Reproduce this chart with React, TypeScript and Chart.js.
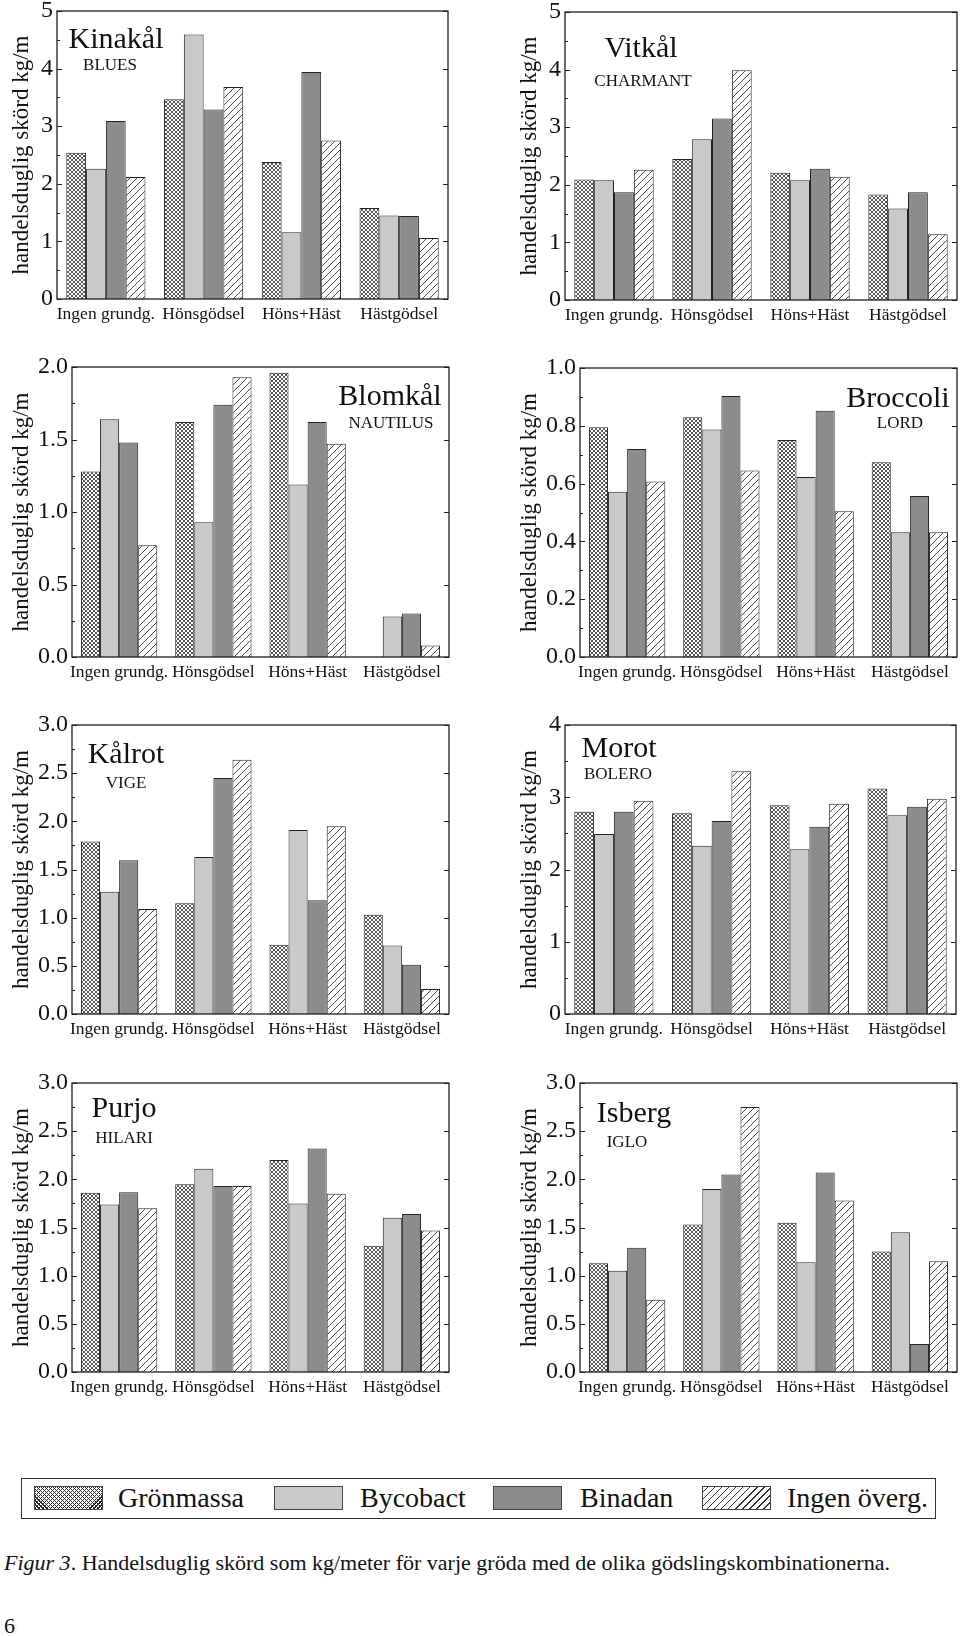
import React, { useEffect, useRef } from "react";
import { Chart, registerables } from "chart.js";

Chart.register(...registerables);

const FONT = '"Liberation Serif", "Times New Roman", serif';

const categories = ["Ingen grundg.", "Hönsgödsel", "Höns+Häst", "Hästgödsel"];
const seriesNames = ["Grönmassa", "Bycobact", "Binadan", "Ingen överg."];
const yAxisTitle = "handelsduglig skörd kg/m";

// Each crop: one array per series (Grönmassa, Bycobact, Binadan, Ingen överg.), values per category
const kinakalValues = [
  [2.54, 3.47, 2.38, 1.58],
  [2.26, 4.59, 1.16, 1.45],
  [3.09, 3.29, 3.94, 1.44],
  [2.12, 3.68, 2.75, 1.06],
];
const vitkalValues = [
  [2.09, 2.45, 2.21, 1.83],
  [2.08, 2.79, 2.08, 1.59],
  [1.87, 3.15, 2.28, 1.87],
  [2.26, 3.99, 2.14, 1.14],
];
const blomkalValues = [
  [1.28, 1.62, 1.96, null],
  [1.64, 0.93, 1.19, 0.28],
  [1.48, 1.74, 1.62, 0.3],
  [0.77, 1.93, 1.47, 0.08],
];
const broccoliValues = [
  [0.795, 0.83, 0.751, 0.674],
  [0.572, 0.787, 0.623, 0.432],
  [0.72, 0.903, 0.852, 0.557],
  [0.607, 0.645, 0.504, 0.432],
];
const kalrotValues = [
  [1.79, 1.15, 0.72, 1.03],
  [1.27, 1.63, 1.91, 0.71],
  [1.595, 2.45, 1.18, 0.51],
  [1.09, 2.64, 1.95, 0.26],
];
const morotValues = [
  [2.8, 2.78, 2.89, 3.12],
  [2.49, 2.33, 2.28, 2.75],
  [2.8, 2.67, 2.59, 2.87],
  [2.95, 3.36, 2.91, 2.98],
];
const purjoValues = [
  [1.86, 1.95, 2.2, 1.31],
  [1.74, 2.11, 1.75, 1.6],
  [1.865, 1.93, 2.32, 1.64],
  [1.7, 1.93, 1.85, 1.47],
];
const isbergValues = [
  [1.13, 1.53, 1.55, 1.25],
  [1.05, 1.9, 1.14, 1.45],
  [1.29, 2.05, 2.07, 0.29],
  [0.75, 2.75, 1.78, 1.15],
];

// y axis: [max, major step, minor step, decimals]
const axisKinakal = [5, 1, 0.5, 0];
const axisVitkal = [5, 1, 0.5, 0];
const axisBlomkal = [2, 0.5, 0.25, 1];
const axisBroccoli = [1, 0.2, 0.1, 1];
const axisKalrot = [3, 0.5, 0.25, 1];
const axisMorot = [4, 1, 0.5, 0];
const axisPurjo = [3, 0.5, 0.25, 1];
const axisIsberg = [3, 0.5, 0.25, 1];

const X_AXIS_H = 26;

type Panel = {
  name: string;
  cultivar: string;
  values: (number | null)[][];
  axis: number[];
  box: number[]; // canvas left, top, width, height
  plot: number[]; // plot left, top, right, bottom (page coords)
  title: number[]; // titleX, titleY, subX, subY (canvas coords)
  yTitleX: number;
};

const panels: Panel[] = [
  { name: "Kinakål", cultivar: "BLUES", values: kinakalValues, axis: axisKinakal,
    box: [0, 0, 480, 335], plot: [57, 11, 448, 299], title: [116, 48, 110, 70], yTitleX: 22 },
  { name: "Vitkål", cultivar: "CHARMANT", values: vitkalValues, axis: axisVitkal,
    box: [480, 0, 480, 335], plot: [565, 12, 957, 300], title: [161, 57, 163, 86], yTitleX: 50 },
  { name: "Blomkål", cultivar: "NAUTILUS", values: blomkalValues, axis: axisBlomkal,
    box: [0, 345, 480, 345], plot: [72, 367, 449, 657], title: [390, 60, 391, 83], yTitleX: 22 },
  { name: "Broccoli", cultivar: "LORD", values: broccoliValues, axis: axisBroccoli,
    box: [480, 345, 480, 345], plot: [580, 368, 957, 657], title: [418, 62, 420, 83], yTitleX: 50 },
  { name: "Kålrot", cultivar: "VIGE", values: kalrotValues, axis: axisKalrot,
    box: [0, 700, 480, 345], plot: [72, 725, 449, 1014], title: [126, 63, 126, 88], yTitleX: 22 },
  { name: "Morot", cultivar: "BOLERO", values: morotValues, axis: axisMorot,
    box: [480, 700, 480, 345], plot: [565, 725, 956, 1014], title: [139, 57, 138, 79], yTitleX: 50 },
  { name: "Purjo", cultivar: "HILARI", values: purjoValues, axis: axisPurjo,
    box: [0, 1060, 480, 345], plot: [72, 1083, 449, 1372], title: [124, 57, 124, 83], yTitleX: 22 },
  { name: "Isberg", cultivar: "IGLO", values: isbergValues, axis: axisIsberg,
    box: [480, 1060, 480, 345], plot: [580, 1083, 957, 1372], title: [154, 62, 147, 87], yTitleX: 50 },
];

function crossPattern(ctx: CanvasRenderingContext2D) {
  const s = 4;
  const c = document.createElement("canvas");
  c.width = s;
  c.height = s;
  const g = c.getContext("2d")!;
  g.fillStyle = "#ffffff";
  g.fillRect(0, 0, s, s);
  g.strokeStyle = "#2a2a2a";
  g.lineWidth = 0.8;
  g.beginPath();
  g.moveTo(0, 0);
  g.lineTo(s, s);
  g.moveTo(0, s);
  g.lineTo(s, 0);
  g.stroke();
  return ctx.createPattern(c, "repeat")!;
}

function hatchPattern(ctx: CanvasRenderingContext2D) {
  const s = 7;
  const c = document.createElement("canvas");
  c.width = s;
  c.height = s;
  const g = c.getContext("2d")!;
  g.fillStyle = "#ffffff";
  g.fillRect(0, 0, s, s);
  g.strokeStyle = "#333333";
  g.lineWidth = 0.9;
  g.beginPath();
  g.moveTo(0, s);
  g.lineTo(s, 0);
  g.moveTo(-1, 1);
  g.lineTo(1, -1);
  g.moveTo(s - 1, s + 1);
  g.lineTo(s + 1, s - 1);
  g.stroke();
  return ctx.createPattern(c, "repeat")!;
}

const decorPlugin = {
  id: "panelDecor",
  afterDraw(chart: any, _args: any, opts: any) {
    const { ctx, chartArea } = chart;
    const { left, right, top, bottom } = chartArea;
    const y = chart.scales.y;
    ctx.save();
    ctx.strokeStyle = "#1e1e1e";
    ctx.lineWidth = 1.3;
    ctx.strokeRect(left, top, right - left, bottom - top);
    ctx.lineWidth = 1;
    ctx.beginPath();
    y.ticks.forEach((t: any) => {
      const py = Math.round(y.getPixelForValue(t.value)) + 0.5;
      ctx.moveTo(left, py);
      ctx.lineTo(left + 5, py);
      ctx.moveTo(right, py);
      ctx.lineTo(right - 5, py);
    });
    const n = Math.round(opts.max / opts.minor);
    for (let i = 1; i < n; i++) {
      const v = i * opts.minor;
      const r = v / opts.step;
      if (Math.abs(r - Math.round(r)) < 1e-6) continue;
      const py = Math.round(y.getPixelForValue(v)) + 0.5;
      ctx.moveTo(left, py);
      ctx.lineTo(left + 3, py);
    }
    ctx.stroke();
    ctx.fillStyle = "#111";
    ctx.textAlign = "center";
    ctx.textBaseline = "alphabetic";
    ctx.font = `30px ${FONT}`;
    ctx.fillText(opts.name, opts.title[0], opts.title[1]);
    ctx.font = `17px ${FONT}`;
    ctx.fillText(opts.cultivar, opts.title[2], opts.title[3]);
    ctx.restore();
  },
};

function PanelChart({ p }: { p: Panel }) {
  const ref = useRef<HTMLCanvasElement>(null);
  useEffect(() => {
    const canvas = ref.current!;
    const ctx = canvas.getContext("2d")!;
    const [bx, by, bw, bh] = p.box;
    const [pl, pt, pr, pb] = p.plot;
    const [yMax, step, minor, decimals] = p.axis;
    const fills: any[] = [crossPattern(ctx), "#c9c9c9", "#8c8c8c", hatchPattern(ctx)];
    const titleSize = 23;
    const lineHalf = (titleSize * 1.2) / 2;
    const chart = new Chart(ctx, {
      type: "bar",
      data: {
        labels: categories,
        datasets: seriesNames.map((s, i) => ({
          label: s,
          data: p.values[i],
          backgroundColor: fills[i],
          borderColor: "#222",
          borderWidth: 1,
          categoryPercentage: 0.81,
          barPercentage: 1,
        })),
      },
      options: {
        responsive: false,
        animation: false,
        devicePixelRatio: 1,
        layout: {
          padding: {
            left: 0,
            top: pt - by,
            right: bx + bw - pr,
            bottom: bh - (pb - by) - X_AXIS_H,
          },
        },
        plugins: {
          legend: { display: false },
          tooltip: { enabled: false },
          panelDecor: {
            name: p.name,
            cultivar: p.cultivar,
            title: p.title,
            max: yMax,
            step,
            minor,
          },
        } as any,
        scales: {
          x: {
            grid: { display: false, drawTicks: false },
            border: { display: false },
            ticks: {
              color: "#111",
              font: { family: FONT, size: 17.5 },
              padding: 5,
              maxRotation: 0,
              autoSkip: false,
            },
            afterFit: (s: any) => {
              s.height = X_AXIS_H;
              s.paddingLeft = 0;
              s.paddingRight = 0;
            },
          },
          y: {
            min: 0,
            max: yMax,
            grid: { display: false, drawTicks: false },
            border: { display: false },
            ticks: {
              stepSize: step,
              color: "#111",
              font: { family: FONT, size: 24 },
              padding: 4,
              callback: (v: any) => Number(v).toFixed(decimals),
            },
            title: {
              display: true,
              text: yAxisTitle,
              color: "#111",
              font: { family: FONT, size: titleSize },
              padding: { top: p.yTitleX - lineHalf, bottom: 0 },
            },
            afterFit: (s: any) => {
              s.width = pl - bx;
              s.paddingTop = 0;
              s.paddingBottom = 0;
            },
          },
        },
      },
      plugins: [decorPlugin],
    });
    return () => chart.destroy();
  }, [p]);
  const [bx, by, bw, bh] = p.box;
  return (
    <canvas
      ref={ref}
      width={bw}
      height={bh}
      style={{ position: "absolute", left: bx, top: by, width: bw, height: bh }}
    />
  );
}

const swatchStyles: React.CSSProperties[] = [
  {
    background:
      "repeating-linear-gradient(45deg, #2a2a2a 0 0.8px, transparent 0.8px 2.8px), repeating-linear-gradient(-45deg, #2a2a2a 0 0.8px, #fff 0.8px 2.8px)",
  },
  { background: "#c9c9c9" },
  { background: "#8c8c8c" },
  { background: "repeating-linear-gradient(-45deg, #fff 0 4px, #333 4px 5px)" },
];
const swatchX = [34, 274, 493, 702];
const legendTextX = [118, 360, 580, 787];

export default function App() {
  return (
    <div
      style={{
        position: "absolute",
        left: 0,
        top: 0,
        width: 960,
        height: 1636,
        background: "#fff",
        fontFamily: FONT,
        color: "#111",
        overflow: "hidden",
      }}
    >
      {panels.map((p) => (
        <PanelChart key={p.name} p={p} />
      ))}
      <div
        style={{
          position: "absolute",
          left: 21,
          top: 1478,
          width: 915,
          height: 41,
          boxSizing: "border-box",
          border: "1.5px solid #333",
        }}
      />
      {seriesNames.map((s, i) => (
        <React.Fragment key={s}>
          <div
            style={{
              position: "absolute",
              left: swatchX[i],
              top: 1486,
              width: 69,
              height: 24,
              boxSizing: "border-box",
              border: "1px solid #444",
              ...swatchStyles[i],
            }}
          />
          <div
            style={{
              position: "absolute",
              left: legendTextX[i],
              top: 1483.5,
              fontSize: 28,
              lineHeight: "28px",
              whiteSpace: "nowrap",
            }}
          >
            {s}
          </div>
        </React.Fragment>
      ))}
      <div
        style={{
          position: "absolute",
          left: 4,
          top: 1552,
          fontSize: 22,
          lineHeight: "22px",
          whiteSpace: "nowrap",
        }}
      >
        <i>Figur 3</i>. Handelsduglig skörd som kg/meter för varje gröda med de olika gödslingskombinationerna.
      </div>
      <div
        style={{
          position: "absolute",
          left: 4,
          top: 1615,
          fontSize: 22,
          lineHeight: "22px",
        }}
      >
        6
      </div>
    </div>
  );
}
